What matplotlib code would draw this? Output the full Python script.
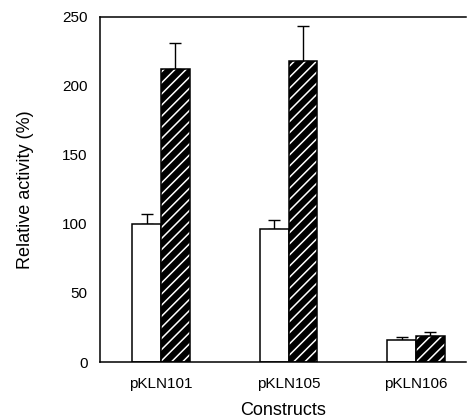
import numpy as np
import matplotlib
matplotlib.use("Agg")
import matplotlib.pyplot as plt

plt.rcParams['font.family'] = ['Liberation Sans', 'DejaVu Sans']
plt.rcParams['hatch.linewidth'] = 1.1

constructs = ["pKLN101", "pKLN105", "pKLN106"]
white_vals = [100, 96, 16]
white_err = [7.5, 7, 2]
hatch_vals = [212, 218, 18.5]
hatch_err = [19, 25, 3]

x = np.arange(len(constructs))
w = 0.225

fig = plt.figure(figsize=(4.7, 4.2), dpi=100)
ax = fig.add_axes([0.213, 0.138, 0.778, 0.822])

# open bars
ax.bar(x - w / 2, white_vals, w, color="white", edgecolor="black", linewidth=1.1, zorder=2)
ax.errorbar(x - w / 2, white_vals, yerr=[np.zeros(3), white_err], fmt="none",
            ecolor="black", elinewidth=1.0, capsize=4, capthick=1.0, zorder=1)

# hatched bars: black fill, white stripes, black outline on top
ax.bar(x + w / 2, hatch_vals, w, color="black", edgecolor="white", hatch="///",
       linewidth=0, zorder=2)
ax.bar(x + w / 2, hatch_vals, w, fill=False, edgecolor="black", linewidth=1.1, zorder=3)
ax.errorbar(x + w / 2, hatch_vals, yerr=[np.zeros(3), hatch_err], fmt="none",
            ecolor="black", elinewidth=1.0, capsize=4, capthick=1.0, zorder=1)

ax.set_xlim(-0.478, 2.39)
ax.set_ylim(0, 250)
ax.set_yticks([0, 50, 100, 150, 200, 250])
ax.set_xticks(x)
ax.set_xticklabels(constructs)
ax.tick_params(length=0, labelsize=11)
ax.tick_params(axis="y", pad=9)
ax.tick_params(axis="x", pad=11)
ax.spines["right"].set_visible(False)
for s in ["left", "top", "bottom"]:
    ax.spines[s].set_linewidth(1.1)

ax.set_ylabel("Relative activity (%)", fontsize=13, labelpad=20)
ax.set_xlabel("Constructs", fontsize=13, labelpad=7.5)

fig.savefig("out.png", dpi=100)
